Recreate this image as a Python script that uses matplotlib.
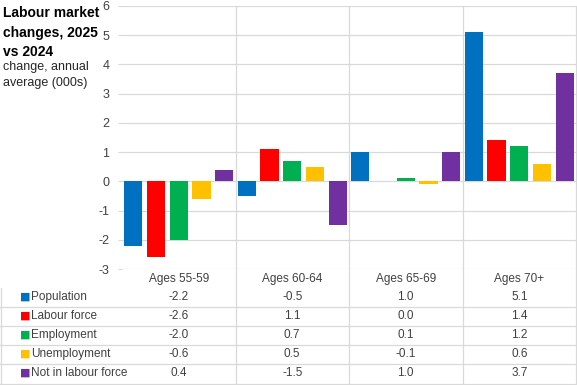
import numpy as np
import matplotlib.pyplot as plt
from matplotlib import transforms
from matplotlib.lines import Line2D

# Datos
categorias = ['Ages 55-59', 'Ages 60-64', 'Ages 65-69', 'Ages 70+']
series = ['Population', 'Labour force', 'Employment', 'Unemployment', 'Not in labour force']
population = [-2.2, -0.5, 1.0, 5.1]
labour_force = [-2.6, 1.1, 0.0, 1.4]
employment = [-2.0, 0.7, 0.1, 1.2]
unemployment = [-0.6, 0.5, -0.1, 0.6]
not_in_lf = [0.4, -1.5, 1.0, 3.7]
valores = [population, labour_force, employment, unemployment, not_in_lf]
colores = ['#0070C0', '#FF0000', '#00B050', '#FFC000', '#7030A0']

W, H = 577, 385
plt.rcParams['font.family'] = ['Liberation Sans', 'DejaVu Sans']
plt.rcParams['axes.unicode_minus'] = False

fig = plt.figure(figsize=(W / 100, H / 100), dpi=100)
ax = fig.add_axes([122 / W, (H - 269) / H, 454 / W, 263 / H])

x = np.arange(len(categorias))
for i, (v, c) in enumerate(zip(valores, colores)):
    ax.bar(x + (i - 2) * 0.2, v, width=0.16, color=c, zorder=3)

ax.set_xlim(-0.5, 3.5)
ax.set_ylim(-3, 6)
ax.set_yticks(range(-3, 7))
ax.set_xticks([])
ax.grid(axis='y', color='#d9d9d9', linewidth=0.9, zorder=0)
ax.tick_params(axis='y', length=3, color='#d9d9d9', labelsize=9, labelcolor='#404040', pad=6)
for s in ax.spines.values():
    s.set_visible(False)

def fy(ypx):
    return 1 - ypx / H

gris = '#d9d9d9'
mix = transforms.blended_transform_factory(ax.transData, fig.transFigure)

# Lineas verticales entre categorias (cruzan la tabla)
for xv in [0.5, 1.5, 2.5, 3.5]:
    fig.add_artist(Line2D([xv, xv], [fy(6), fy(384)], transform=mix, color=gris, lw=0.9))

# Lineas horizontales de la tabla
for yl in [307, 326, 345, 364, 384]:
    fig.add_artist(Line2D([0, 1], [fy(yl), fy(yl)], transform=fig.transFigure, color=gris, lw=0.9))
fig.add_artist(Line2D([1 / W, 1 / W], [fy(288), fy(384)], transform=fig.transFigure, color=gris, lw=0.9))

# Etiquetas de categoria
for xi, cat in zip(x, categorias):
    fig.text(xi, fy(279), cat, transform=mix, ha='center', va='center', fontsize=8.5, color='#404040')

# Filas de la tabla
filas_y = [297, 316, 335, 354, 373]
for nombre, v, c, yr in zip(series, valores, colores, filas_y):
    fig.text(19.5 / W, fy(yr), '\u25A0', ha='left', va='center', fontsize=8, color=c,
             family=['DejaVu Sans'])
    fig.text(31 / W, fy(yr), nombre, ha='left', va='center', fontsize=8.5, color='#404040')
    for xi, val in zip(x, v):
        fig.text(xi, fy(yr), '%.1f' % val, transform=mix, ha='center', va='center',
                 fontsize=8.5, color='#404040')

# Titulo
fig.text(3 / W, fy(6), 'Labour market\nchanges, 2025\nvs 2024', ha='left', va='top',
         fontsize=10, fontweight='bold', color='black', linespacing=1.5)
fig.text(3 / W, fy(61), 'change, annual\naverage (000s)', ha='left', va='top',
         fontsize=9, color='#262626', linespacing=1.45)

fig.savefig('out.png', dpi=100)
